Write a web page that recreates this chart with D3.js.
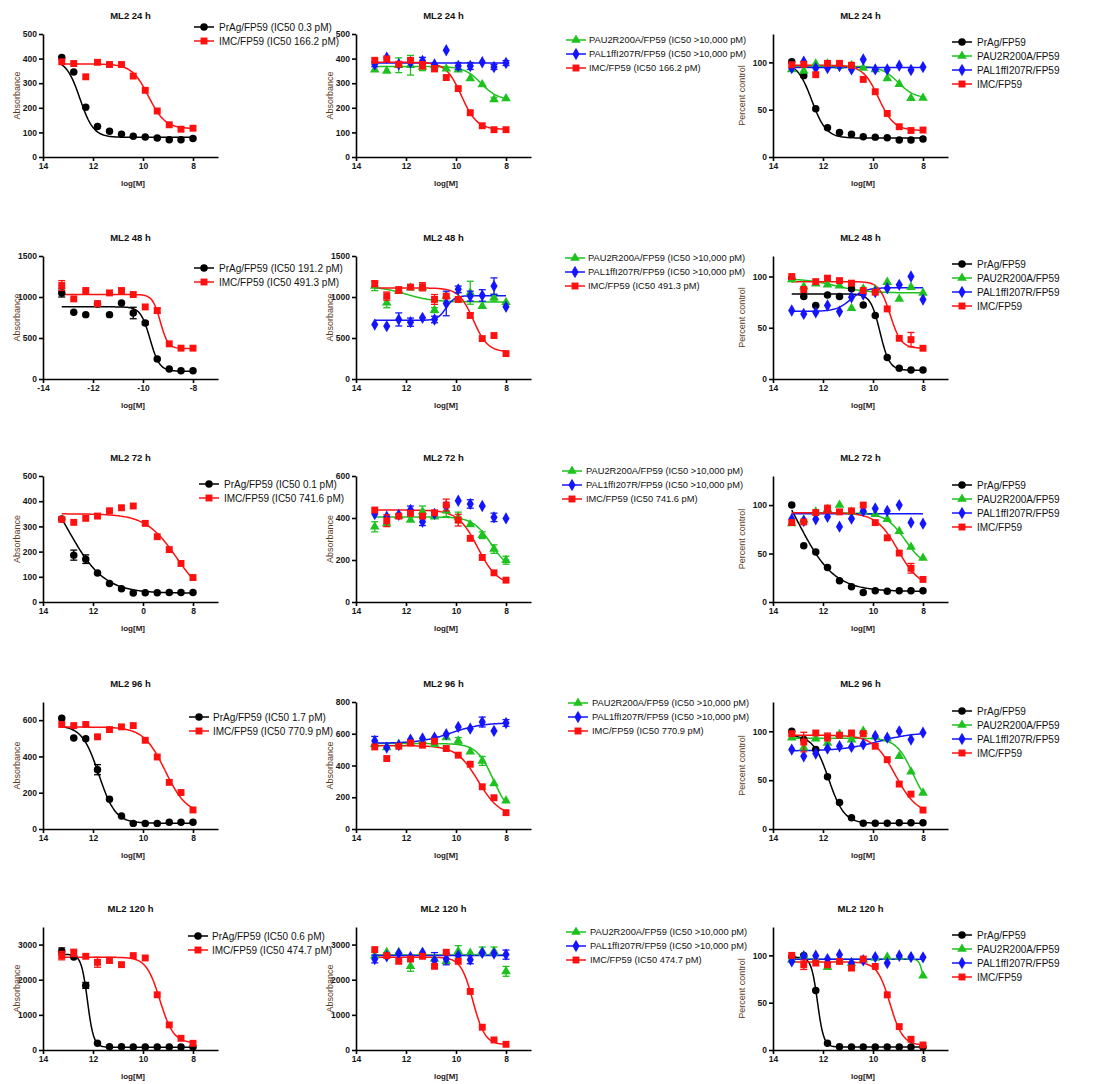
<!DOCTYPE html>
<html>
<head>
<meta charset="utf-8">
<script src="https://cdn.jsdelivr.net/npm/d3@7"></script>
<style>
  body { margin: 0; background: #fff; }
  svg { display: block; }
  text { font-family: "Liberation Sans", Arial, Helvetica, sans-serif; }
</style>
</head>
<body>
<svg id="chart" width="1105" height="1084"></svg>
<script>
// Doses as -log10[M]: 3-fold dilutions from 10 nM
const logDose = [13.25, 12.77, 12.29, 11.82, 11.34, 10.86, 10.39, 9.91, 9.43, 8.95, 8.48, 8.00];
const hours = [24, 48, 72, 96, 120];
const ic50PrAg = [0.3, 191.2, 0.1, 1.7, 0.6];       // pM
const ic50IMC = [166.2, 491.3, 741.6, 770.9, 474.7]; // pM

const pIC = pM => -Math.log10(pM * 1e-12);

// ---------- 24 h ----------
const abs24_PrAg = [404, 346, 202, 124, 105, 93, 84, 81, 77, 70, 70, 75];
const abs24_IMC_a = [387, 380, 326, 385, 376, 376, 329, 271, 187, 131, 113, 117];
const abs24_PAU2 = [355, 350, 373, 373, 366, 372, 359, 355, 319, 295, 234, 238];
const abs24_PAU2_err = [0, 0, 30, 40, 15, 0, 0, 0, 0, 0, 8, 0];
const abs24_PAL1 = [377, 404, 377, 384, 391, 376, 434, 370, 370, 385, 366, 382];
const abs24_PAL1_err = [10, 0, 0, 0, 14, 0, 0, 14, 14, 0, 10, 10];
const abs24_IMC_b = [393, 399, 377, 393, 373, 359, 323, 278, 180, 127, 111, 111];
const abs24_IMC_b_err = [0, 0, 0, 0, 15, 12, 0, 0, 0, 0, 0, 0];
const pct24_PrAg = [100.7, 86, 51, 31, 26, 24, 21.5, 21, 20.4, 18, 18, 19];
const pct24_PAU2 = [92.6, 91, 98.6, 98.6, 96, 97, 94, 92.6, 83, 77, 62, 62.3];
const pct24_PAL1 = [94, 100.7, 94, 94, 96, 92.6, 103, 92.6, 92.6, 96.5, 92, 95];
const pct24_IMC = [97.5, 98, 87, 99, 99, 97, 82, 69, 46, 32, 28, 28.5];

// ---------- 48 h ----------
const abs48_PrAg = [1050, 813, 785, 915, 785, 928, 805, 682, 245, 123, 102, 102];
const abs48_PrAg_err = [50, 0, 0, 0, 0, 0, 70, 20, 0, 0, 0, 0];
const abs48_IMC_a = [1140, 977, 1079, 919, 1050, 1079, 1030, 879, 834, 429, 376, 376];
const abs48_IMC_a_err = [60, 0, 0, 0, 0, 0, 0, 0, 30, 0, 0, 0];
const abs48_PAU2 = [1133, 929, 1072, 1113, 1113, 840, 1011, 970, 1052, 889, 991, 935];
const abs48_PAU2_err = [55, 60, 0, 0, 0, 30, 0, 0, 140, 0, 40, 0];
const abs48_PAL1 = [664, 644, 726, 693, 746, 726, 921, 1093, 1011, 1019, 1133, 880];
const abs48_PAL1_err = [0, 0, 80, 50, 0, 40, 150, 40, 60, 70, 100, 0];
const abs48_IMC_b = [1162, 1011, 1084, 1121, 1125, 970, 1011, 970, 775, 493, 530, 310];
const abs48_IMC_b_err = [35, 50, 40, 0, 50, 60, 0, 0, 30, 0, 0, 0];
const pct48_PrAg = [98, 80.5, 71.7, 82, 80.5, 88, 72.3, 61.9, 21, 10.4, 8.8, 8.8];
const pct48_PAU2 = [97, 90, 93, 92, 91, 69, 88, 87, 94.5, 78, 89.6, 84];
const pct48_PAL1 = [66.8, 63.5, 65, 71.7, 65.8, 79.8, 82.4, 84.7, 88.6, 91.9, 100, 77.5];
const pct48_IMC = [100, 87.3, 95, 98.4, 96, 93.5, 86.3, 84.7, 68.4, 39.7, 38.4, 30];
const pct48_IMC_err = [0, 0, 0, 0, 0, 0, 0, 0, 0, 0, 7, 0];

// ---------- 72 h ----------
const abs72_PrAg = [329, 186, 170, 115, 73, 53, 36, 37, 37, 38, 38, 38];
const abs72_PrAg_err = [0, 20, 17, 0, 0, 0, 0, 0, 0, 0, 0, 0];
const abs72_IMC_a = [328, 316, 332, 341, 362, 374, 381, 312, 259, 208, 153, 97];
const abs72_PAU2 = [358, 374, 409, 390, 430, 406, 435, 403, 369, 318, 252, 199];
const abs72_PAU2_err = [24, 0, 0, 0, 27, 0, 28, 25, 0, 16, 20, 19];
const abs72_PAL1 = [419, 406, 415, 438, 382, 420, 457, 482, 467, 457, 403, 398];
const abs72_PAL1_err = [0, 0, 0, 19, 18, 0, 0, 0, 20, 0, 20, 0];
const abs72_IMC_b = [438, 387, 409, 422, 409, 425, 462, 390, 303, 212, 139, 104];
const abs72_IMC_b_err = [0, 28, 0, 0, 0, 0, 28, 28, 0, 0, 0, 0];
const pct72_PrAg = [100, 58, 51.6, 35.5, 22, 15.7, 9.8, 11.5, 11, 11.5, 11.5, 11.5];
const pct72_PAU2 = [81, 84.7, 93, 95.8, 100, 93, 94, 90.6, 85.4, 73, 56.8, 45.3];
const pct72_PAL1 = [85.4, 83.6, 85.4, 88, 77.7, 86, 94, 96.5, 94, 100, 81.9, 80.8];
const pct72_IMC = [82, 82.6, 92.3, 95.8, 93, 94, 100, 81.9, 66.2, 50.5, 34.8, 23.3];
const pct72_IMC_err = [0, 0, 0, 4, 0, 0, 0, 0, 0, 0, 5, 0];

// ---------- 96 h ----------
const abs96_PrAg = [611, 502, 497, 327, 164, 72, 31, 31, 31, 37, 37, 37];
const abs96_PrAg_err = [0, 0, 0, 28, 0, 0, 0, 0, 0, 0, 0, 0];
const abs96_IMC_a = [576, 570, 576, 508, 548, 563, 570, 489, 397, 257, 201, 105];
const abs96_PAU2 = [534, 513, 534, 549, 555, 534, 576, 555, 486, 429, 287, 178];
const abs96_PAU2_err = [0, 0, 0, 0, 0, 0, 0, 21, 0, 28, 0, 0];
const abs96_PAL1 = [555, 513, 528, 563, 570, 576, 597, 643, 632, 674, 618, 668];
const abs96_PAL1_err = [28, 0, 0, 0, 0, 0, 0, 0, 0, 31, 0, 21];
const abs96_IMC_b = [517, 444, 521, 542, 528, 553, 507, 465, 408, 266, 197, 103];
const pct96_PrAg = [100, 91.5, 81.3, 53.4, 27.2, 11.6, 5.8, 5.8, 5.8, 6.5, 6.5, 6.5];
const pct96_PAU2 = [93.5, 83.3, 92.5, 88, 97, 91.5, 100.3, 95, 92.5, 74.5, 58.5, 37];
const pct96_PAL1 = [81.3, 74.5, 77.2, 82.3, 84.7, 84, 86.7, 95.2, 93.5, 100, 91.5, 98.6];
const pct96_IMC = [97.6, 89, 98.3, 94.2, 96, 98.3, 97.6, 84.7, 71, 46, 35.7, 19.4];
const pct96_IMC_err = [0, 10, 0, 4, 0, 0, 0, 0, 0, 0, 0, 0];

// ---------- 120 h ----------
const abs120_PrAg = [2810, 2648, 1838, 190, 95, 95, 86, 86, 86, 86, 86, 86];
const abs120_PrAg_err = [95, 0, 85, 0, 0, 0, 0, 0, 0, 0, 0, 0];
const abs120_IMC_a = [2686, 2762, 2667, 2495, 2552, 2429, 2686, 2619, 1571, 714, 333, 190];
const abs120_IMC_a_err = [120, 105, 0, 140, 80, 0, 0, 0, 0, 0, 0, 0];
const abs120_PAU2 = [2686, 2781, 2781, 2381, 2781, 2590, 2524, 2810, 2762, 2810, 2810, 2238];
const abs120_PAU2_err = [0, 0, 0, 140, 0, 0, 0, 160, 0, 120, 120, 140];
const abs120_PAL1 = [2590, 2667, 2743, 2648, 2762, 2552, 2590, 2686, 2571, 2762, 2743, 2714];
const abs120_PAL1_err = [110, 0, 0, 0, 0, 220, 165, 0, 115, 0, 0, 130];
const abs120_IMC_b = [2857, 2686, 2524, 2590, 2667, 2381, 2781, 2524, 1667, 648, 286, 162];
const pct120_PrAg = [98.2, 100, 62.9, 7.1, 3.5, 3.2, 3.2, 3.2, 3.2, 3.2, 3.2, 3.2];
const pct120_PAU2 = [95.4, 99.6, 95.4, 87.6, 95.4, 91.9, 95.4, 97.2, 98.2, 98.2, 98.2, 78.4];
const pct120_PAL1 = [93.6, 99, 99.6, 96.1, 100.7, 91.9, 94.7, 98.2, 91.9, 99.6, 98.2, 97.9];
const pct120_IMC = [100, 90.1, 91.9, 90.1, 93.6, 86.6, 96.1, 88.3, 58.3, 24.7, 11.3, 5.3];
const pct120_IMC_err = [0, 5, 0, 0, 0, 0, 0, 0, 0, 0, 0, 0];

// Four-parameter logistic fits: [top, bottom, midpoint (-log M), Hill slope]
const fits = {
  r0: {
    aPrAg: [395, 80, pIC(ic50PrAg[0]), 1.6], aIMC: [378, 115, pIC(ic50IMC[0]), 1.3],
    bPAU2: [368, 232, 9.0, 1.3], bPAL1: [382, 382, 10, 1], bIMC: [385, 112, pIC(ic50IMC[0]), 1.4],
    cPrAg: [100, 20, 12.45, 1.5], cPAU2: [96, 62, 9.0, 1.3], cPAL1: [94.5, 94.5, 10, 1], cIMC: [97, 28, 9.78, 1.4]
  },
  r1: {
    aPrAg: [880, 95, pIC(ic50PrAg[1]), 2.3], aIMC: [1030, 370, pIC(ic50IMC[1]), 2.8],
    bPAU2: [1130, 940, 12.0, 0.8], bPAL1: [715, 1015, 10.4, 2.5], bIMC: [1110, 330, pIC(ic50IMC[1]), 1.5],
    cPrAg: [83, 8.5, 9.72, 2.3], cPAU2: [98, 84, 11.5, 0.7], cPAL1: [66, 89, 10.9, 1.5], cIMC: [95, 30, 9.31, 2]
  },
  r2: {
    aPrAg: [539, 35, pIC(ic50PrAg[2]), 0.6], aIMC: [350, 0, 8.65, 0.7],
    bPAU2: [405, 150, 8.6, 1.2], bPAL1: null, bIMC: [438, 80, pIC(ic50IMC[2]), 1.1],
    cPrAg: [154, 11, 13.0, 0.6], cPAU2: [92, 35, 8.7, 1.1], cPAL1: [91, 91, 10, 1], cIMC: [92, 15, 9.0, 1.0]
  },
  r3: {
    aPrAg: [570, 32, pIC(ic50PrAg[3]), 1.3], aIMC: [562, 80, pIC(ic50IMC[3]), 1.0],
    bPAU2: [538, 80, 8.5, 1.3], bPAL1: [540, 670, 10.2, 0.7], bIMC: [525, 80, pIC(ic50IMC[3]), 1.0],
    cPrAg: [96, 5.8, 11.77, 1.4], cPAU2: [93, 20, 8.4, 1.3], cPAL1: [80, 99, 9.8, 0.6], cIMC: [96, 15, 9.11, 1.0]
  },
  r4: {
    aPrAg: [2720, 80, pIC(ic50PrAg[4]), 3.5], aIMC: [2640, 200, pIC(ic50IMC[4]), 1.6],
    bPAU2: [2700, 2700, 10, 1], bPAL1: [2690, 2690, 10, 1], bIMC: [2640, 150, pIC(ic50IMC[4]), 1.8],
    cPrAg: [98, 3.2, 12.22, 3.5], cPAU2: [96, 60, 8.0, 6], cPAL1: [96, 96, 10, 1], cIMC: [93, 5, 9.32, 1.7]
  }
};

// Series appearance
const seriesStyle = {
  PrAg: { name: "PrAg/FP59", color: "#000000", symbol: d3.symbolCircle, size: 44 },
  PAU2: { name: "PAU2R200A/FP59", color: "#1ec21e", symbol: d3.symbolTriangle, size: 40 },
  PAL1: { name: "PAL1ffI207R/FP59", color: "#1414ff", symbol: d3.symbolDiamond, size: 44 },
  IMC:  { name: "IMC/FP59", color: "#ff1010", symbol: d3.symbolSquare, size: 48 }
};

// Page layout
const colX = [43, 356, 773];
const rowTop = [34, 256, 476, 702, 927];
const rowBottom = [157, 379, 602, 829, 1050];
const PX_PER_DECADE = 25;
// [marker x, text x, first row y] per row / column
const legendPos = [
  [[204, 219, 27], [576, 589, 40], [962, 977, 42]],
  [[204, 219, 268], [575, 588, 258], [962, 977, 264]],
  [[209, 224, 484], [572, 586, 471], [962, 977, 485]],
  [[199, 213, 717], [578, 592, 703], [962, 977, 711]],
  [[198, 212, 936], [576, 590, 932], [962, 977, 935]]
];
const legendFont = [10, 9.3, 10];
// x tick label text as printed on the 72 h absorbance panel
const xTickText72 = ["14", "12", "0", "8"];

const absData = [
  { a: [abs24_PrAg, null, abs24_IMC_a, null], b: [abs24_PAU2, abs24_PAU2_err, abs24_PAL1, abs24_PAL1_err, abs24_IMC_b, abs24_IMC_b_err] },
  { a: [abs48_PrAg, abs48_PrAg_err, abs48_IMC_a, abs48_IMC_a_err], b: [abs48_PAU2, abs48_PAU2_err, abs48_PAL1, abs48_PAL1_err, abs48_IMC_b, abs48_IMC_b_err] },
  { a: [abs72_PrAg, abs72_PrAg_err, abs72_IMC_a, null], b: [abs72_PAU2, abs72_PAU2_err, abs72_PAL1, abs72_PAL1_err, abs72_IMC_b, abs72_IMC_b_err] },
  { a: [abs96_PrAg, abs96_PrAg_err, abs96_IMC_a, null], b: [abs96_PAU2, abs96_PAU2_err, abs96_PAL1, abs96_PAL1_err, abs96_IMC_b, null] },
  { a: [abs120_PrAg, abs120_PrAg_err, abs120_IMC_a, abs120_IMC_a_err], b: [abs120_PAU2, abs120_PAU2_err, abs120_PAL1, abs120_PAL1_err, abs120_IMC_b, null] }
];
const pctData = [
  [pct24_PrAg, pct24_PAU2, pct24_PAL1, pct24_IMC, null],
  [pct48_PrAg, pct48_PAU2, pct48_PAL1, pct48_IMC, pct48_IMC_err],
  [pct72_PrAg, pct72_PAU2, pct72_PAL1, pct72_IMC, pct72_IMC_err],
  [pct96_PrAg, pct96_PAU2, pct96_PAL1, pct96_IMC, pct96_IMC_err],
  [pct120_PrAg, pct120_PAU2, pct120_PAL1, pct120_IMC, pct120_IMC_err]
];

const absAxis = [
  { max: 500, ticks: [0, 100, 200, 300, 400, 500] },
  { max: 1500, ticks: [0, 500, 1000, 1500] },
  { max: 500, ticks: [0, 100, 200, 300, 400, 500] },
  { max: 700, ticks: [0, 200, 400, 600] },
  { max: 3500, ticks: [0, 1000, 2000, 3000] }
];
const absAxisB = [
  { max: 500, ticks: [0, 100, 200, 300, 400, 500] },
  { max: 1500, ticks: [0, 500, 1000, 1500] },
  { max: 600, ticks: [0, 200, 400, 600] },
  { max: 800, ticks: [0, 200, 400, 600, 800] },
  { max: 3500, ticks: [0, 1000, 2000, 3000] }
];
const pctAxis = [
  { max: 130, ticks: [0, 50, 100] },
  { max: 120, ticks: [0, 50, 100] },
  { max: 130, ticks: [0, 50, 100] },
  { max: 130, ticks: [0, 50, 100] },
  { max: 130, ticks: [0, 50, 100] }
];

// Build the panel list
const panels = [];
hours.forEach((h, r) => {
  const f = fits["r" + r];
  const A = absData[r];
  const P = pctData[r];
  panels.push({
    row: r, col: 0, title: `ML2 ${h} h`, yTitle: "Absorbance", neg: r === 1,
    xText: r === 2 ? xTickText72 : null,
    axis: absAxis[r],
    series: [
      { key: "PrAg", values: A.a[0], err: A.a[1], fit: f.aPrAg, ic: ic50PrAg[r] },
      { key: "IMC", values: A.a[2], err: A.a[3], fit: f.aIMC, ic: ic50IMC[r] }
    ]
  });
  panels.push({
    row: r, col: 1, title: `ML2 ${h} h`, yTitle: "Absorbance", neg: false,
    axis: absAxisB[r],
    series: [
      { key: "PAU2", values: A.b[0], err: A.b[1], fit: f.bPAU2, ic: ">10,000" },
      { key: "PAL1", values: A.b[2], err: A.b[3], fit: f.bPAL1, ic: ">10,000" },
      { key: "IMC", values: A.b[4], err: A.b[5], fit: f.bIMC, ic: ic50IMC[r] }
    ]
  });
  panels.push({
    row: r, col: 2, title: `ML2 ${h} h`, yTitle: "Percent control", neg: false,
    axis: pctAxis[r],
    series: [
      { key: "PrAg", values: P[0], err: null, fit: f.cPrAg },
      { key: "PAU2", values: P[1], err: null, fit: f.cPAU2 },
      { key: "PAL1", values: P[2], err: null, fit: f.cPAL1 },
      { key: "IMC", values: P[3], err: P[4], fit: f.cIMC }
    ]
  });
});

const svg = d3.select("#chart");
const logistic = (fit, d) => {
  const [top, bottom, mid, hill] = fit;
  return bottom + (top - bottom) / (1 + Math.pow(10, hill * (mid - d)));
};

function drawPanel(p) {
  const x0 = colX[p.col];
  const top = rowTop[p.row], bottom = rowBottom[p.row];
  const sgn = p.neg ? -1 : 1;
  const x = d3.scaleLinear()
    .domain(p.neg ? [-14, -7] : [14, 7])
    .range([x0, x0 + 7 * PX_PER_DECADE]);
  const y = d3.scaleLinear().domain([0, p.axis.max]).range([bottom, top]);
  const g = svg.append("g").attr("class", "panel");

  // Title
  g.append("text")
    .attr("x", x0 + 3.5 * PX_PER_DECADE).attr("y", top - 15.5)
    .attr("text-anchor", "middle")
    .attr("font-size", 9.5).attr("font-weight", "bold").attr("fill", "#111")
    .text(p.title);

  // Axes
  const xTicks = p.neg ? [-14, -12, -10, -8] : [14, 12, 10, 8];
  const xFmt = p.xText ? ((d, i) => p.xText[i]) : (d => String(d));
  const gx = g.append("g").attr("transform", `translate(0,${bottom})`)
    .call(d3.axisBottom(x).tickValues(xTicks).tickFormat(xFmt)
      .tickSize(4).tickSizeOuter(0).tickPadding(2));
  const gy = g.append("g").attr("transform", `translate(${x0},0)`)
    .call(d3.axisLeft(y).tickValues(p.axis.ticks).tickFormat(d3.format("d"))
      .tickSize(4).tickSizeOuter(0).tickPadding(2));
  [gx, gy].forEach(ax => {
    ax.select(".domain").attr("stroke", "#000").attr("stroke-width", 1.6);
    ax.selectAll(".tick line").attr("stroke", "#000").attr("stroke-width", 1.6);
    ax.selectAll(".tick text").attr("font-size", 8.5).attr("font-weight", "bold")
      .attr("fill", "#161616").attr("font-family", "'Liberation Sans', Arial, sans-serif");
  });

  // Axis titles
  const yTitleOffset = p.col === 2 ? 31 : 26;
  g.append("text")
    .attr("transform", `translate(${x0 - yTitleOffset},${(top + bottom) / 2}) rotate(-90)`)
    .attr("text-anchor", "middle").attr("dominant-baseline", "central")
    .attr("font-size", 9).attr("fill", "#5a3a1c")
    .text(p.yTitle);
  g.append("text")
    .attr("x", x0 + 3.6 * PX_PER_DECADE).attr("y", bottom + 29)
    .attr("text-anchor", "middle")
    .attr("font-size", 8).attr("font-weight", "bold").attr("fill", "#2a2018")
    .text("log[M]");

  // Fitted curves
  const dRange = d3.range(0, 121).map(i => logDose[0] + (logDose[logDose.length - 1] - logDose[0]) * i / 120);
  const line = d3.line().x(d => x(sgn * d[0])).y(d => y(d[1]));
  p.series.forEach(s => {
    if (!s.fit) return;
    const st = seriesStyle[s.key];
    g.append("path")
      .datum(dRange.map(d => [d, logistic(s.fit, d)]))
      .attr("fill", "none").attr("stroke", st.color).attr("stroke-width", 1.5)
      .attr("d", line);
  });

  // Error bars and points
  p.series.forEach(s => {
    const st = seriesStyle[s.key];
    const pts = s.values.map((v, i) => ({ d: logDose[i], v, e: s.err ? s.err[i] : 0 }));
    const eg = g.append("g").attr("stroke", st.color).attr("stroke-width", 1.3);
    pts.filter(pt => pt.e > 0).forEach(pt => {
      const cx = x(sgn * pt.d);
      eg.append("line").attr("x1", cx).attr("x2", cx).attr("y1", y(pt.v - pt.e)).attr("y2", y(pt.v + pt.e));
      eg.append("line").attr("x1", cx - 3.5).attr("x2", cx + 3.5).attr("y1", y(pt.v - pt.e)).attr("y2", y(pt.v - pt.e));
      eg.append("line").attr("x1", cx - 3.5).attr("x2", cx + 3.5).attr("y1", y(pt.v + pt.e)).attr("y2", y(pt.v + pt.e));
    });
    g.append("g").selectAll("path").data(pts).join("path")
      .attr("transform", pt => `translate(${x(sgn * pt.d)},${y(pt.v)})`)
      .attr("d", d3.symbol().type(st.symbol).size(st.size))
      .attr("fill", st.color);
  });

  // Legend
  const [mx, tx, ly] = legendPos[p.row][p.col];
  p.series.forEach((s, i) => {
    const st = seriesStyle[s.key];
    const yy = ly + i * 14;
    const lg = g.append("g");
    lg.append("line").attr("x1", mx - 10).attr("x2", mx + 10).attr("y1", yy).attr("y2", yy)
      .attr("stroke", st.color).attr("stroke-width", 1.5);
    lg.append("path").attr("transform", `translate(${mx},${yy})`)
      .attr("d", d3.symbol().type(st.symbol).size(st.size)).attr("fill", st.color);
    const label = s.ic === undefined ? st.name : `${st.name} (IC50 ${s.ic} pM)`;
    lg.append("text").attr("x", tx).attr("y", yy).attr("dominant-baseline", "central")
      .attr("font-size", legendFont[p.col]).attr("fill", "#111").text(label);
  });
}

panels.forEach(drawPanel);
</script>
</body>
</html>
